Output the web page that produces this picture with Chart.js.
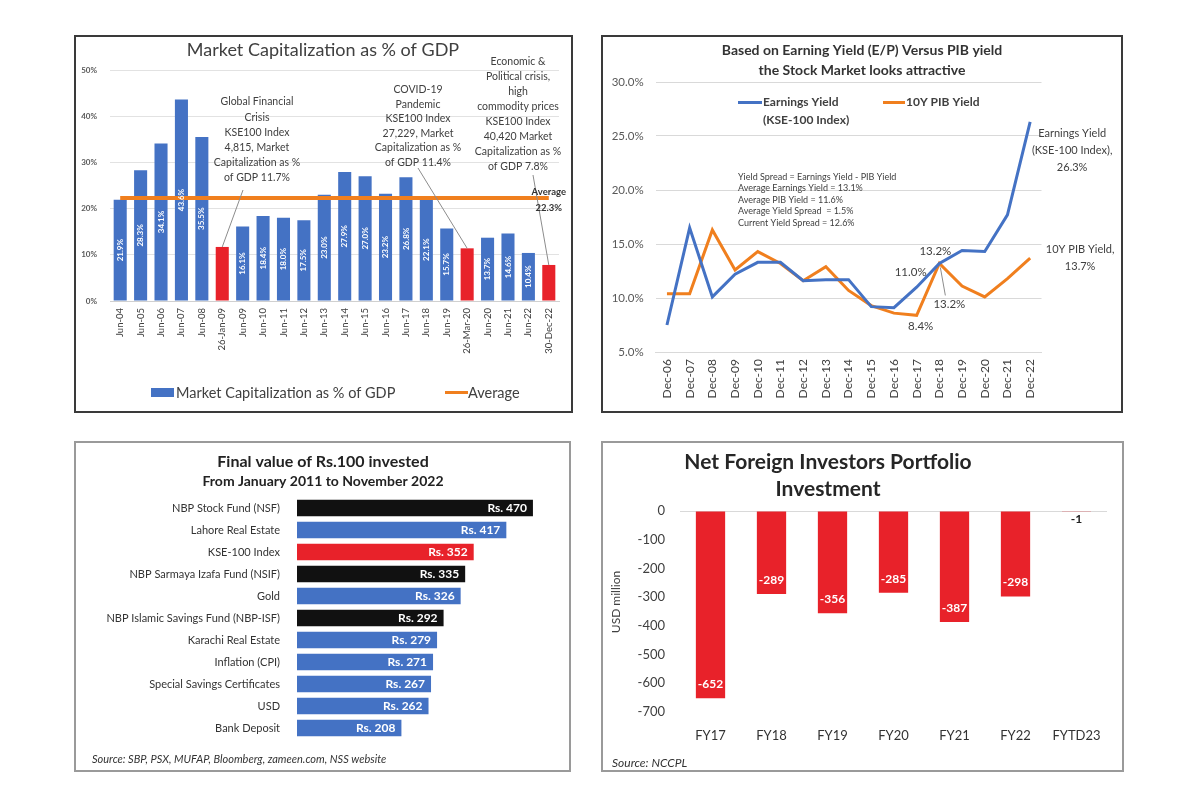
<html>
<head>
<style>
  body { margin: 0; background: #fff; }
  .panel { position: absolute; }
  .frame { position: absolute; box-sizing: border-box; border: 2px solid #3a3a3a; pointer-events: none; }
  .frame.light { border-color: #9a9a9a; }
</style>
</head>
<body>

<div class="panel" style="left:74px;top:35px;width:499px;height:378px"><canvas id="mcapChart"></canvas></div>
<div class="panel" style="left:601px;top:35px;width:522px;height:378px"><canvas id="yieldChart"></canvas></div>
<div class="panel" style="left:74px;top:441px;width:497px;height:331px"><canvas id="investChart"></canvas></div>
<div class="panel" style="left:601px;top:441px;width:523px;height:331px"><canvas id="foreignChart"></canvas></div>

<div class="frame" style="left:74px;top:35px;width:499px;height:378px"></div>
<div class="frame" style="left:601px;top:35px;width:522px;height:378px"></div>
<div class="frame light" style="left:74px;top:441px;width:497px;height:331px"></div>
<div class="frame light" style="left:601px;top:441px;width:523px;height:331px"></div>

<script src="https://cdn.jsdelivr.net/npm/chart.js"></script>
<script>
  "use strict";

  // ---- data ----
  const mcapLabels = ['Jun-04', 'Jun-05', 'Jun-06', 'Jun-07', 'Jun-08', '26-Jan-09', 'Jun-09', 'Jun-10',
                      'Jun-11', 'Jun-12', 'Jun-13', 'Jun-14', 'Jun-15', 'Jun-16', 'Jun-17', 'Jun-18',
                      'Jun-19', '26-Mar-20', 'Jun-20', 'Jun-21', 'Jun-22', '30-Dec-22'];
  const mcapValues = [21.9, 28.3, 34.1, 43.6, 35.5, 11.7, 16.1, 18.4, 18.0, 17.5, 23.0, 27.9,
                      27.0, 23.2, 26.8, 22.1, 15.7, 11.4, 13.7, 14.6, 10.4, 7.8];
  const mcapAverage = 22.3;
  const mcapTicks = [0, 10, 20, 30, 40, 50];

  const yieldLabels = ['Dec-06', 'Dec-07', 'Dec-08', 'Dec-09', 'Dec-10', 'Dec-11', 'Dec-12', 'Dec-13',
                       'Dec-14', 'Dec-15', 'Dec-16', 'Dec-17', 'Dec-18', 'Dec-19', 'Dec-20', 'Dec-21', 'Dec-22'];
  const earningsYield = [7.5, 16.5, 10.1, 12.2, 13.3, 13.3, 11.6, 11.7, 11.7, 9.2, 9.1, 11.0, 13.2, 14.4, 14.3, 17.7, 26.3];
  const pibYield = [10.4, 10.4, 16.3, 12.6, 14.3, 13.2, 11.6, 12.9, 10.7, 9.3, 8.6, 8.4, 13.2, 11.1, 10.1, 11.8, 13.7];
  const yieldTicks = [5, 10, 15, 20, 25, 30];

  const investNames = ['NBP Stock Fund (NSF)', 'Lahore Real Estate', 'KSE-100 Index', 'NBP Sarmaya Izafa Fund (NSIF)',
                       'Gold', 'NBP Islamic Savings Fund (NBP-ISF)', 'Karachi Real Estate', 'Inflation (CPI)',
                       'Special Savings Certificates', 'USD', 'Bank Deposit'];
  const investValues = [470, 417, 352, 335, 326, 292, 279, 271, 267, 262, 208];
  const investGroup = ['nbp', 'other', 'index', 'nbp', 'other', 'nbp', 'other', 'other', 'other', 'other', 'other'];

  const fyLabels = ['FY17', 'FY18', 'FY19', 'FY20', 'FY21', 'FY22', 'FYTD23'];
  const fyValues = [-652, -289, -356, -285, -387, -298, -1];
  const fyTicks = [0, -100, -200, -300, -400, -500, -600, -700];

  // ---- styles ----
  const BLUE = '#4472C4';
  const RED = '#E8222A';
  const ORANGE = '#F07F1E';
  const FONT = 'Lato, "Open Sans", sans-serif';
  Chart.defaults.font.family = FONT;

  function txt(ctx, s, x, y, font, color, align) {
      ctx.save();
      ctx.font = font;
      ctx.fillStyle = color;
      ctx.textAlign = align || 'center';
      ctx.textBaseline = 'middle';
      ctx.fillText(s, x, y);
      ctx.restore();
  }
  function lines(ctx, arr, x, y, step, font, color, align) {
      arr.forEach((s, i) => txt(ctx, s, x, y + i * step, font, color, align));
  }
  function leader(ctx, x1, y1, x2, y2) {
      ctx.save();
      ctx.strokeStyle = '#8c8c8c';
      ctx.lineWidth = 1;
      ctx.beginPath();
      ctx.moveTo(x1, y1);
      ctx.lineTo(x2, y2);
      ctx.stroke();
      ctx.restore();
  }

  // ---- chart 1: market cap ----
  const mcapPlugin = {
      id: 'mcapText',
      afterDraw(chart) {
          const ctx = chart.ctx;
          txt(ctx, 'Market Capitalization as % of GDP', 249, 15, '18px ' + FONT, '#404040');

          const bars = chart.getDatasetMeta(1).data;
          bars.forEach((b, i) => {
              if (!mcapLabels[i].startsWith('Jun')) return;
              ctx.save();
              ctx.translate(b.x, (b.y + b.base) / 2);
              ctx.rotate(-Math.PI / 2);
              txt(ctx, mcapValues[i].toFixed(1) + '%', 0, 0, 'bold 8px ' + FONT, '#fff');
              ctx.restore();
          });

          const f = '10.5px ' + FONT, c = '#404040';
          lines(ctx, ['Global Financial', 'Crisis', 'KSE100 Index', '4,815, Market',
                      'Capitalization as %', 'of GDP 11.7%'], 183, 67, 15.2, f, c);
          leader(ctx, 169, 155, bars[5].x, bars[5].y);
          lines(ctx, ['COVID-19', 'Pandemic', 'KSE100 Index', '27,229, Market',
                      'Capitalization as %', 'of GDP 11.4%'], 344, 55, 14.5, f, c);
          leader(ctx, 344, 133, bars[17].x, bars[17].y);
          lines(ctx, ['Economic &', 'Political crisis,', 'high', 'commodity prices', 'KSE100 Index',
                      '40,420 Market', 'Capitalization as %', 'of GDP 7.8%'], 444, 27, 15, f, c);
          leader(ctx, 459, 140, bars[21].x, bars[21].y);

          const pts = chart.getDatasetMeta(0).data;
          const last = pts[pts.length - 1];
          txt(ctx, 'Average', last.x, last.y - 6, 'bold 9.5px ' + FONT, '#333');
          txt(ctx, mcapAverage.toFixed(1) + '%', last.x, last.y + 10, 'bold 9.5px ' + FONT, '#333');

          // legend
          ctx.fillStyle = BLUE;
          ctx.fillRect(77, 353, 23, 9);
          txt(ctx, 'Market Capitalization as % of GDP', 102, 358, '14.5px ' + FONT, '#404040', 'left');
          ctx.fillStyle = ORANGE;
          ctx.fillRect(371, 356, 23, 3);
          txt(ctx, 'Average', 394, 358, '14.5px ' + FONT, '#404040', 'left');
      }
  };

  new Chart(document.getElementById('mcapChart'), {
      type: 'bar',
      data: {
          labels: mcapLabels,
          datasets: [
              { type: 'line', data: mcapLabels.map(() => mcapAverage), borderColor: ORANGE,
                borderWidth: 4, pointRadius: 0, order: 0 },
              { data: mcapValues, backgroundColor: mcapLabels.map(l => l.startsWith('Jun') ? BLUE : RED),
                barPercentage: 0.64, categoryPercentage: 1, order: 1 }
          ]
      },
      options: {
          animation: false, responsive: true, maintainAspectRatio: false,
          layout: { padding: { left: 0, right: 14, top: 35, bottom: 50 } },
          plugins: { legend: { display: false }, tooltip: { enabled: false } },
          scales: {
              x: { grid: { display: false, drawTicks: false }, border: { color: '#d0d0d0' },
                   ticks: { minRotation: 90, maxRotation: 90, autoSkip: false, font: { size: 9.5 }, color: '#404040', padding: 7 },
                   afterFit: s => { s.height = 62; } },
              y: { min: 0, max: 50,
                   afterBuildTicks: s => { s.ticks = mcapTicks.map(v => ({ value: v })); },
                   ticks: { callback: v => v + '%', font: { size: 8, weight: 'bold' }, color: '#595959', padding: 13 },
                   grid: { color: '#e2e2e2', drawTicks: false }, border: { display: false },
                   afterFit: s => { s.width = 36; } }
          }
      },
      plugins: [mcapPlugin]
  });

  // ---- chart 2: yields ----
  const yieldPlugin = {
      id: 'yieldText',
      afterDraw(chart) {
          const ctx = chart.ctx;
          const tf = 'bold 14px ' + FONT;
          txt(ctx, 'Based on Earning Yield (E/P) Versus PIB yield', 261, 15, tf, '#333');
          txt(ctx, 'the Stock Market looks attractive', 261, 35, tf, '#333');

          // legend
          const lf = 'bold 12px ' + FONT;
          ctx.fillStyle = BLUE;
          ctx.fillRect(137, 66, 24, 3);
          txt(ctx, 'Earnings Yield', 162, 67, lf, '#404040', 'left');
          txt(ctx, '(KSE-100 Index)', 162, 85, lf, '#404040', 'left');
          ctx.fillStyle = ORANGE;
          ctx.fillRect(282, 66, 22, 3);
          txt(ctx, '10Y PIB Yield', 305, 67, lf, '#404040', 'left');

          lines(ctx, ['Yield Spread = Earnings Yield - PIB Yield', 'Average Earnings Yield = 13.1%',
                      'Average PIB Yield = 11.6%', 'Average Yield Spread  = 1.5%', 'Current Yield Spread = 12.6%'],
                137, 142, 11.5, '9px ' + FONT, '#404040', 'left');

          const b = chart.getDatasetMeta(0).data;
          const o = chart.getDatasetMeta(1).data;
          const pf = '11.5px ' + FONT, pc = '#404040';
          txt(ctx, earningsYield[12].toFixed(1) + '%', b[12].x - 4, b[12].y - 12, pf, pc);
          txt(ctx, earningsYield[11].toFixed(1) + '%', b[11].x - 6, b[11].y - 15, pf, pc);
          txt(ctx, pibYield[11].toFixed(1) + '%', o[11].x + 4, o[11].y + 11, pf, pc);
          leader(ctx, o[12].x + 1, o[12].y + 4, o[12].x + 6, o[12].y + 32);
          txt(ctx, pibYield[12].toFixed(1) + '%', o[12].x + 10, o[12].y + 41, pf, pc);

          const lb = b[b.length - 1], lo = o[o.length - 1];
          lines(ctx, ['Earnings Yield', '(KSE-100 Index),', earningsYield[16].toFixed(1) + '%'],
                lb.x + 42, lb.y + 11, 17, '11px ' + FONT, pc);
          lines(ctx, ['10Y PIB Yield,', pibYield[16].toFixed(1) + '%'],
                lo.x + 50, lo.y - 9, 17, '11px ' + FONT, pc);
      }
  };

  new Chart(document.getElementById('yieldChart'), {
      type: 'line',
      data: {
          labels: yieldLabels,
          datasets: [
              { data: earningsYield, borderColor: BLUE, borderWidth: 3, pointRadius: 0, tension: 0 },
              { data: pibYield, borderColor: ORANGE, borderWidth: 3, pointRadius: 0, tension: 0 }
          ]
      },
      options: {
          animation: false, responsive: true, maintainAspectRatio: false,
          layout: { padding: { left: 0, right: 81.5, top: 47, bottom: 11 } },
          plugins: { legend: { display: false }, tooltip: { enabled: false } },
          scales: {
              x: { offset: true, grid: { display: false, drawTicks: false }, border: { color: '#d9d9d9' },
                   ticks: { minRotation: 90, maxRotation: 90, autoSkip: false, font: { size: 12 }, color: '#404040', padding: 7 },
                   afterFit: s => { s.height = 50; } },
              y: { min: 5, max: 30,
                   afterBuildTicks: s => { s.ticks = yieldTicks.map(v => ({ value: v })); },
                   ticks: { callback: v => v.toFixed(1) + '%', font: { size: 11.5 }, color: '#595959', padding: 12 },
                   grid: { color: '#d9d9d9', drawTicks: false }, border: { display: false },
                   afterFit: s => { s.width = 54.6; } }
          }
      },
      plugins: [yieldPlugin]
  });

  // ---- chart 3: Rs.100 invested ----
  const groupColor = { nbp: '#111111', other: BLUE, index: RED };
  const investPlugin = {
      id: 'investText',
      afterDraw(chart) {
          const ctx = chart.ctx;
          txt(ctx, 'Final value of Rs.100 invested', 249, 21, 'bold 16px ' + FONT, '#222');
          txt(ctx, 'From January 2011 to November 2022', 249, 40, 'bold 14px ' + FONT, '#222');
          chart.getDatasetMeta(0).data.forEach((el, i) => {
              txt(ctx, 'Rs. ' + investValues[i], el.x - 6, el.y, 'bold 12px ' + FONT, '#fff', 'right');
          });
          txt(ctx, 'Source: SBP, PSX, MUFAP, Bloomberg, zameen.com, NSS website', 18, 318,
              'italic 11px ' + FONT, '#333', 'left');
      }
  };

  new Chart(document.getElementById('investChart'), {
      type: 'bar',
      data: {
          labels: investNames,
          datasets: [{ data: investValues, backgroundColor: investGroup.map(g => groupColor[g]),
                       barPercentage: 0.74, categoryPercentage: 1 }]
      },
      options: {
          indexAxis: 'y',
          animation: false, responsive: true, maintainAspectRatio: false,
          layout: { padding: { left: 0, right: 23, top: 56, bottom: 33 } },
          plugins: { legend: { display: false }, tooltip: { enabled: false } },
          scales: {
              x: { display: false, min: 0, max: 500 },
              y: { grid: { display: false }, border: { display: false },
                   ticks: { font: { size: 11 }, color: '#333', padding: 9 },
                   afterFit: s => { s.width = 223; } }
          }
      },
      plugins: [investPlugin]
  });

  // ---- chart 4: foreign investors ----
  const foreignPlugin = {
      id: 'foreignText',
      afterDraw(chart) {
          const ctx = chart.ctx;
          txt(ctx, 'Net Foreign Investors Portfolio', 227, 21, 'bold 21px ' + FONT, '#262626');
          txt(ctx, 'Investment', 227, 48, 'bold 21px ' + FONT, '#262626');
          chart.getDatasetMeta(0).data.forEach((el, i) => {
              if (Math.abs(el.y - el.base) > 20) {
                  txt(ctx, String(fyValues[i]), el.x, el.y - 14, 'bold 12px ' + FONT, '#fff');
              } else {
                  txt(ctx, String(fyValues[i]), el.x, el.y + 8, 'bold 12px ' + FONT, '#222');
              }
          });
          ctx.save();
          ctx.translate(15, 161);
          ctx.rotate(-Math.PI / 2);
          txt(ctx, 'USD million', 0, 0, '12px ' + FONT, '#404040');
          ctx.restore();
          txt(ctx, 'Source: NCCPL', 11, 322, 'italic 12px ' + FONT, '#333', 'left');
      }
  };

  new Chart(document.getElementById('foreignChart'), {
      type: 'bar',
      data: {
          labels: fyLabels,
          datasets: [{ data: fyValues, backgroundColor: RED, barPercentage: 0.48, categoryPercentage: 1 }]
      },
      options: {
          animation: false, responsive: true, maintainAspectRatio: false,
          layout: { padding: { left: 0, right: 17, top: 70, bottom: 25 } },
          plugins: { legend: { display: false }, tooltip: { enabled: false } },
          scales: {
              x: { grid: { display: false }, border: { display: false },
                   ticks: { font: { size: 13 }, color: '#333', padding: 8 },
                   afterFit: s => { s.height = 35; } },
              y: { min: -700, max: 0,
                   afterBuildTicks: s => { s.ticks = fyTicks.map(v => ({ value: v })); },
                   ticks: { font: { size: 13 }, color: '#404040', padding: 15 },
                   grid: { color: c => c.tick && c.tick.value === 0 ? '#d9d9d9' : 'rgba(0,0,0,0)', drawTicks: false },
                   border: { display: false },
                   afterFit: s => { s.width = 79; } }
          }
      },
      plugins: [foreignPlugin]
  });
</script>
</body>
</html>
